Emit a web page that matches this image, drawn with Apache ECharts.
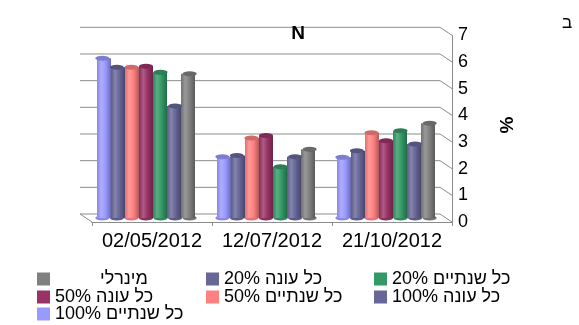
<!DOCTYPE html>
<html>
<head>
<meta charset="utf-8">
<script src="https://cdn.jsdelivr.net/npm/echarts@6/dist/echarts.min.js"></script>
<style>
  html, body { margin: 0; padding: 0; background: #fff; }
  #chart { width: 579px; height: 325px; }
</style>
</head>
<body>
<div id="chart"></div>
<script>
// Sampling dates
const categories = ['02/05/2012', '12/07/2012', '21/10/2012'];

// Series names (text order chosen so the canvas shows them right-to-left correctly)
const seriesNames = [
  '100% כל שנתיים',
  '100% כל עונה',
  '50% כל שנתיים',
  '50% כל עונה',
  '20% כל שנתיים',
  '20% כל עונה',
  'מינרלי'
];

// N content (%) per treatment
const biennial100 = [5.99, 2.30, 2.28];
const seasonal100 = [5.65, 2.34, 2.52];
const biennial50  = [5.65, 3.00, 3.20];
const seasonal50  = [5.69, 3.09, 2.90];
const biennial20  = [5.46, 1.92, 3.27];
const seasonal20  = [4.20, 2.30, 2.77];
const mineral     = [5.41, 2.58, 3.55];

// Value axis ticks
const yTicks = [0, 1, 2, 3, 4, 5, 6, 7];

const seriesValues = [biennial100, seasonal100, biennial50, seasonal50, biennial20, seasonal20, mineral];
const baseColors = ['#9999FF', '#666699', '#FF8080', '#993366', '#339966', '#666699', '#808080'];

function mix(hex, target, t) {
  const n = parseInt(hex.slice(1), 16);
  const r = (n >> 16) & 255, g = (n >> 8) & 255, b = n & 255;
  const m = c => Math.round(c + (target - c) * t);
  return 'rgb(' + m(r) + ',' + m(g) + ',' + m(b) + ')';
}

function cylinderFill(hex) {
  return new echarts.graphic.LinearGradient(0, 0, 1, 0, [
    { offset: 0, color: mix(hex, 0, 0.12) },
    { offset: 0.3, color: mix(hex, 255, 0.2) },
    { offset: 0.6, color: hex },
    { offset: 1, color: mix(hex, 0, 0.3) }
  ]);
}

const FONT = '"Liberation Sans", Arial, sans-serif';
const DEPTH_X = 12, DEPTH_Y = 8;

const series = [];

// Back wall gridlines, side diagonals and floor edge, drawn from the value axis
series.push({
  type: 'custom',
  xAxisIndex: 0,
  yAxisIndex: 0,
  silent: true,
  clip: false,
  z: 1,
  data: yTicks.map(v => [0, v]),
  renderItem: function (params, api) {
    const cs = params.coordSys;
    const y = api.coord([0, api.value(1)])[1];
    const right = cs.x + cs.width;
    const stroke = { stroke: '#8c8c8c', lineWidth: 1 };
    const children = [
      { type: 'line', shape: { x1: cs.x - DEPTH_X, y1: y - DEPTH_Y, x2: right - DEPTH_X, y2: y - DEPTH_Y }, style: stroke },
      { type: 'line', shape: { x1: right - DEPTH_X, y1: y - DEPTH_Y, x2: right, y2: y }, style: stroke }
    ];
    if (api.value(1) === 0) {
      children.push({ type: 'line', shape: { x1: cs.x - DEPTH_X, y1: y - DEPTH_Y, x2: cs.x, y2: y }, style: stroke });
    }
    return { type: 'group', children: children };
  }
});

seriesNames.forEach((name, i) => {
  series.push({
    type: 'bar',
    name: name,
    xAxisIndex: 1,
    yAxisIndex: 1,
    data: seriesValues[i],
    barWidth: 14,
    barGap: '0%',
    z: 3,
    itemStyle: { color: cylinderFill(baseColors[i]) }
  });
});

// Elliptic caps on the cylinders
seriesNames.forEach((name, i) => {
  series.push({
    type: 'pictorialBar',
    name: name + ' cap',
    xAxisIndex: 1,
    yAxisIndex: 1,
    data: seriesValues[i],
    symbol: 'circle',
    symbolSize: [14, 5],
    symbolPosition: 'end',
    symbolOffset: [0, '-50%'],
    barGap: '0%',
    z: 4,
    itemStyle: { color: mix(baseColors[i], 0, 0.18) }
  });
});

// Rounded cylinder bottoms (own hidden axes so they lay out like the bars)
seriesNames.forEach((name, i) => {
  series.push({
    type: 'pictorialBar',
    name: name + ' base',
    xAxisIndex: 2,
    yAxisIndex: 2,
    data: seriesValues[i],
    symbol: 'circle',
    symbolSize: [14, 5],
    symbolPosition: 'start',
    symbolOffset: [0, '50%'],
    barGap: '0%',
    z: 2,
    itemStyle: { color: mix(baseColors[i], 0, 0.1) }
  });
});

// Legend laid out in three columns
const legendSlots = [
  { name: 'מינרלי', left: 37, top: 270, pad: 45 },
  { name: '20% כל עונה', left: 206, top: 270 },
  { name: '20% כל שנתיים', left: 374, top: 270 },
  { name: '50% כל עונה', left: 37, top: 288 },
  { name: '50% כל שנתיים', left: 206, top: 288 },
  { name: '100% כל עונה', left: 374, top: 288 },
  { name: '100% כל שנתיים', left: 37, top: 305 }
];

const legends = legendSlots.map(s => ({
  data: [{ name: s.name, itemStyle: { color: baseColors[seriesNames.indexOf(s.name)] } }],
  left: s.left,
  top: s.top,
  padding: 0,
  icon: 'rect',
  itemWidth: 13,
  itemHeight: 13,
  selectedMode: false,
  textStyle: {
    fontFamily: FONT,
    fontSize: 18,
    lineHeight: 18,
    color: '#000',
    padding: [0, 0, 0, s.pad || 0]
  }
}));

const option = {
  animation: false,
  backgroundColor: '#fff',
  title: {
    text: 'N',
    left: 293,
    top: 19,
    textAlign: 'center',
    textStyle: { fontFamily: FONT, fontSize: 19, fontWeight: 'bold', color: '#000' }
  },
  legend: legends,
  grid: [
    { left: 92, right: 127, top: 35.3, bottom: 103 },
    { left: 86, right: 133, top: 31.3, bottom: 107 }
  ],
  xAxis: [
    {
      type: 'category',
      gridIndex: 0,
      data: categories,
      axisLine: { show: true, lineStyle: { color: '#8c8c8c' } },
      axisTick: { show: true, length: 4, lineStyle: { color: '#8c8c8c' } },
      axisLabel: { fontFamily: FONT, fontSize: 20, color: '#000', margin: 9, interval: 0, hideOverlap: false },
      splitLine: { show: false }
    },
    { type: 'category', gridIndex: 1, data: categories, show: false },
    { type: 'category', gridIndex: 1, data: categories, show: false }
  ],
  yAxis: [
    {
      type: 'value',
      gridIndex: 0,
      position: 'right',
      min: 0,
      max: 7,
      interval: 1,
      axisLine: { show: true, lineStyle: { color: '#8c8c8c' } },
      axisTick: { show: false },
      splitLine: { show: false },
      axisLabel: { fontFamily: FONT, fontSize: 18, color: '#000', margin: 6 }
    },
    { type: 'value', gridIndex: 1, min: 0, max: 7, interval: 1, show: false, splitLine: { show: false } },
    { type: 'value', gridIndex: 1, min: 0, max: 7, interval: 1, show: false, splitLine: { show: false } }
  ],
  graphic: [
    {
      type: 'text',
      x: 508,
      y: 125,
      rotation: Math.PI / 2,
      style: { text: '%', font: 'bold 19px ' + FONT, fill: '#000', align: 'center', verticalAlign: 'middle' }
    },
    {
      type: 'text',
      x: 567,
      y: 23,
      style: { text: 'ב', font: '17px ' + FONT, fill: '#000', align: 'center', verticalAlign: 'middle' }
    }
  ],
  series: series
};

const chart = echarts.init(document.getElementById('chart'), null, { renderer: 'canvas' });
chart.setOption(option);
</script>
</body>
</html>
